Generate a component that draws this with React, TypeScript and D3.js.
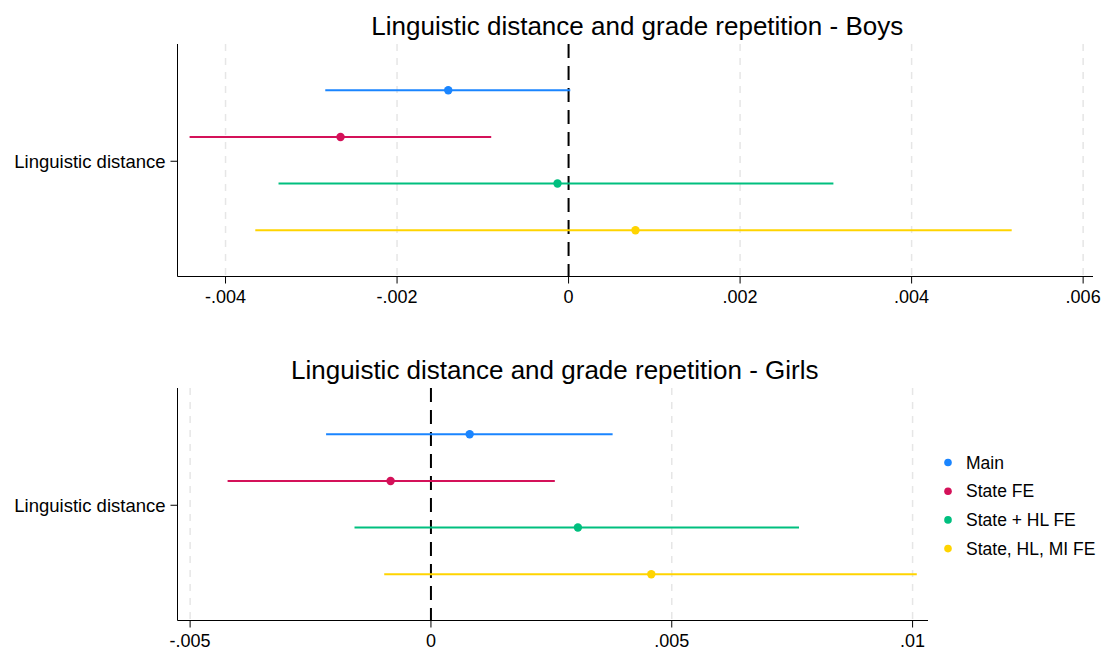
import { useRef, useEffect } from "react";
import * as d3 from "d3";

const models = ["Main", "State FE", "State + HL FE", "State, HL, MI FE"];
const colors = ["#1a85ff", "#d41159", "#00bf7f", "#ffd400"];
const rowLabel = "Linguistic distance";

// Boys: point estimate, lower and upper bound
const boysEst = [-0.001403, -0.002659, -0.000129, 0.00078];
const boysLo = [-0.002837, -0.004419, -0.003382, -0.003653];
const boysHi = [0.00002, -0.000902, 0.003088, 0.005167];
const boysTicks = [-0.004, -0.002, 0, 0.002, 0.004, 0.006];

// Girls
const girlsEst = [0.000804, -0.000838, 0.003051, 0.004575];
const girlsLo = [-0.002177, -0.004222, -0.001587, -0.00097];
const girlsHi = [0.003772, 0.002572, 0.007642, 0.010087];
const girlsTicks = [-0.005, 0, 0.005, 0.01];

const W = 1109;
const H = 650;
const font = "'Liberation Sans', Arial, sans-serif";

const fmt = (v: number) => {
  if (v === 0) return "0";
  const s = String(+v.toFixed(4));
  return s.replace(/^(-?)0\./, "$1.");
};

const drawPanel = (
  svg: any,
  opts: {
    title: string;
    est: number[];
    lo: number[];
    hi: number[];
    ticks: number[];
    domain: [number, number];
    left: number;
    right: number;
    top: number;
    bottom: number;
  }
) => {
  const { title, est, lo, hi, ticks, domain, left, right, top, bottom } = opts;
  const x = d3.scaleLinear().domain(domain).range([left, right]);
  const y = d3
    .scaleBand()
    .domain(models)
    .range([top + 23, bottom - 23])
    .paddingInner(0)
    .align(0.5);
  const rowY = (m: string) => (y(m) as number) + y.bandwidth() / 2;

  const g = svg.append("g");

  // grid
  g.selectAll(".grid")
    .data(ticks.filter((t) => t !== 0))
    .join("line")
    .attr("x1", (d: number) => x(d))
    .attr("x2", (d: number) => x(d))
    .attr("y1", top)
    .attr("y2", bottom)
    .attr("stroke", "#e6e6e6")
    .attr("stroke-width", 1.5)
    .attr("stroke-dasharray", "7,7");

  // axes
  g.append("line")
    .attr("x1", left)
    .attr("x2", left)
    .attr("y1", top)
    .attr("y2", bottom)
    .attr("stroke", "#000")
    .attr("stroke-width", 1);
  g.append("line")
    .attr("x1", left)
    .attr("x2", right)
    .attr("y1", bottom)
    .attr("y2", bottom)
    .attr("stroke", "#000")
    .attr("stroke-width", 1);

  const xt = g.selectAll(".xt").data(ticks).join("g");
  xt.append("line")
    .attr("x1", (d: number) => x(d))
    .attr("x2", (d: number) => x(d))
    .attr("y1", bottom)
    .attr("y2", bottom + 7)
    .attr("stroke", "#000");
  xt.append("text")
    .attr("x", (d: number) => x(d))
    .attr("y", bottom + 26.5)
    .attr("text-anchor", "middle")
    .attr("font-size", 18)
    .attr("font-family", font)
    .text((d: number) => fmt(d));

  const midY = (top + bottom) / 2 + 1;
  g.append("line")
    .attr("x1", left - 7)
    .attr("x2", left)
    .attr("y1", midY)
    .attr("y2", midY)
    .attr("stroke", "#000");
  g.append("text")
    .attr("x", left - 12)
    .attr("y", midY + 6.5)
    .attr("text-anchor", "end")
    .attr("font-size", 18.5)
    .attr("font-family", font)
    .text(rowLabel);

  // zero line
  g.append("line")
    .attr("x1", x(0))
    .attr("x2", x(0))
    .attr("y1", top)
    .attr("y2", bottom)
    .attr("stroke", "#000")
    .attr("stroke-width", 2)
    .attr("stroke-dasharray", "14,8");

  // CIs and points
  models.forEach((m, i) => {
    g.append("line")
      .attr("x1", x(lo[i]))
      .attr("x2", x(hi[i]))
      .attr("y1", rowY(m))
      .attr("y2", rowY(m))
      .attr("stroke", colors[i])
      .attr("stroke-width", 2);
    g.append("circle")
      .attr("cx", x(est[i]))
      .attr("cy", rowY(m))
      .attr("r", 4.2)
      .attr("fill", colors[i]);
  });

  g.append("text")
    .attr("x", (left + right) / 2 + 2)
    .attr("y", top - 9)
    .attr("text-anchor", "middle")
    .attr("font-size", 26)
    .attr("font-family", font)
    .text(title);
};

const App = () => {
  const svgRef = useRef<SVGSVGElement | null>(null);

  useEffect(() => {
    const svg = d3.select(svgRef.current);
    svg.selectAll("*").remove();

    drawPanel(svg, {
      title: "Linguistic distance and grade repetition - Boys",
      est: boysEst,
      lo: boysLo,
      hi: boysHi,
      ticks: boysTicks,
      domain: [-0.00456, 0.006115],
      left: 177.5,
      right: 1093,
      top: 44,
      bottom: 276.5,
    });

    drawPanel(svg, {
      title: "Linguistic distance and grade repetition - Girls",
      est: girlsEst,
      lo: girlsLo,
      hi: girlsHi,
      ticks: girlsTicks,
      domain: [-0.005262, 0.01032],
      left: 177.5,
      right: 928,
      top: 388,
      bottom: 620.5,
    });

    // legend
    const lg = svg.append("g");
    models.forEach((m, i) => {
      const ly = 462.5 + i * 28.7;
      lg.append("circle")
        .attr("cx", 948)
        .attr("cy", ly)
        .attr("r", 3.8)
        .attr("fill", colors[i]);
      lg.append("text")
        .attr("x", 966)
        .attr("y", ly + 6)
        .attr("font-size", 17.5)
        .attr("font-family", font)
        .text(m);
    });
  }, []);

  return (
    <svg
      ref={svgRef}
      width={W}
      height={H}
      style={{ position: "absolute", left: 0, top: 0, background: "#fff" }}
    />
  );
};

export default App;
